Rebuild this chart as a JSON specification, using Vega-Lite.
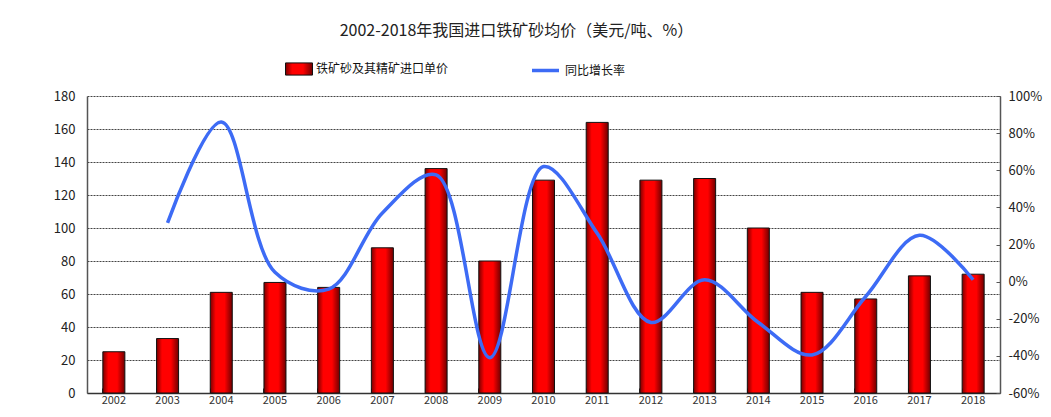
{
  "$schema": "https://vega.github.io/schema/vega-lite/v6.json",
  "width": 913,
  "height": 297,
  "autosize": {"type": "none"},
  "padding": {"left": 87, "top": 96, "right": 51, "bottom": 24},
  "background": "white",
  "title": {
    "text": "2002-2018年我国进口铁矿砂均价（美元/吨、%）",
    "font": "Noto Sans CJK SC",
    "fontSize": 16,
    "fontWeight": "normal",
    "color": "#222222",
    "anchor": "middle",
    "frame": "group",
    "dx": -27,
    "offset": 16
  },
  "config": {
    "view": {"stroke": null},
    "font": "Noto Sans CJK SC",
    "axis": {"labelFont": "Noto Sans CJK SC", "labelColor": "#222222"}
  },
  "data": {
    "values": [
      {"year": "2002", "price": 25, "growth": null},
      {"year": "2003", "price": 33, "growth": 31.6},
      {"year": "2004", "price": 61, "growth": 86},
      {"year": "2005", "price": 67, "growth": 5},
      {"year": "2006", "price": 64, "growth": -4},
      {"year": "2007", "price": 88, "growth": 37},
      {"year": "2008", "price": 136, "growth": 57.5},
      {"year": "2009", "price": 80, "growth": -41},
      {"year": "2010", "price": 129, "growth": 62},
      {"year": "2011", "price": 164, "growth": 26},
      {"year": "2012", "price": 129, "growth": -22},
      {"year": "2013", "price": 130, "growth": 1},
      {"year": "2014", "price": 100, "growth": -22},
      {"year": "2015", "price": 61, "growth": -39.5},
      {"year": "2016", "price": 57, "growth": -8},
      {"year": "2017", "price": 71, "growth": 25},
      {"year": "2018", "price": 72, "growth": 1}
    ]
  },
  "encoding": {
    "x": {
      "field": "year",
      "type": "ordinal",
      "scale": {"paddingInner": 0.59, "paddingOuter": 0.295},
      "axis": {
        "title": null,
        "labelAngle": 0,
        "labelFontSize": 11,
        "labelColor": "#333333",
        "labelPadding": 6,
        "bandPosition": 0,
        "tickSize": -5,
        "tickColor": "#333333",
        "domainColor": "#333333",
        "domainWidth": 1.5
      }
    }
  },
  "layer": [
    {
      "mark": {
        "type": "bar",
        "strokeWidth": 1,
        "fill": {
          "gradient": "linear",
          "x1": 0, "x2": 1, "y1": 0, "y2": 0,
          "stops": [
            {"offset": 0, "color": "#7a0000"},
            {"offset": 0.25, "color": "#ff0000"},
            {"offset": 0.65, "color": "#ff0000"},
            {"offset": 1, "color": "#700000"}
          ]
        }
      },
      "encoding": {
        "y": {
          "field": "price",
          "type": "quantitative",
          "scale": {"domain": [0, 180], "nice": false},
          "axis": {
            "title": null,
            "values": [0, 20, 40, 60, 80, 100, 120, 140, 160, 180],
            "labelFontSize": 13,
            "labelPadding": 12,
            "ticks": false,
            "domainColor": "#555555",
            "domainWidth": 1.5,
            "grid": true,
            "gridColor": "#444444",
            "gridDash": [2, 1],
            "gridWidth": 1
          }
        },
        "stroke": {
          "datum": "铁矿砂及其精矿进口单价",
          "type": "nominal",
          "scale": {"range": ["#111111"]},
          "legend": {
            "title": null,
            "orient": "none",
            "legendX": 198,
            "legendY": -41,
            "symbolType": "M-1,-0.45H1V0.45H-1Z",
            "symbolSize": 729,
            "symbolStrokeWidth": 1,
            "labelFontSize": 12,
            "labelColor": "#111111",
            "labelOffset": 3,
            "encode": {"symbols": {"update": {"fill": {"value": "#e00000"}, "fillOpacity": {"value": 1}}}}
          }
        }
      }
    },
    {
      "mark": {"type": "line", "interpolate": "catmull-rom", "strokeWidth": 3.5},
      "encoding": {
        "y": {
          "field": "growth",
          "type": "quantitative",
          "scale": {"domain": [-60, 100], "nice": false},
          "axis": {
            "title": null,
            "orient": "right",
            "values": [-60, -40, -20, 0, 20, 40, 60, 80, 100],
            "labelExpr": "datum.value + '%'",
            "labelFontSize": 13,
            "labelPadding": 12,
            "ticks": true,
            "tickSize": -4,
            "tickColor": "#555555",
            "domainColor": "#555555",
            "domainWidth": 1.5,
            "grid": false
          }
        },
        "stroke": {
          "datum": "同比增长率",
          "type": "nominal",
          "scale": {"range": ["#3d6bf5"]},
          "legend": {
            "title": null,
            "orient": "none",
            "legendX": 443,
            "legendY": -41,
            "symbolType": "stroke",
            "symbolSize": 729,
            "symbolStrokeWidth": 3.5,
            "labelFontSize": 12,
            "labelColor": "#111111",
            "labelOffset": 4
          }
        }
      }
    }
  ],
  "resolve": {"scale": {"y": "independent", "fill": "independent", "stroke": "independent"}}
}
